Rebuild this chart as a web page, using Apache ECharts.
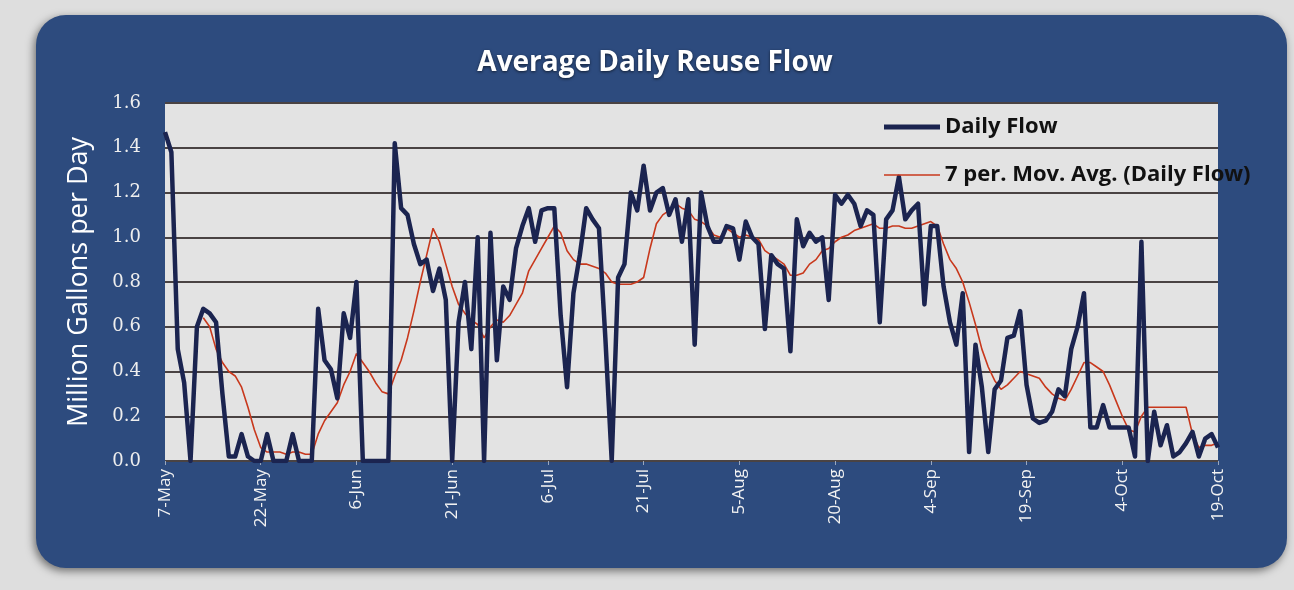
<!DOCTYPE html>
<html>
<head>
<meta charset="utf-8">
<script src="https://cdn.jsdelivr.net/npm/echarts@6/dist/echarts.min.js"></script>
<style>
  html, body { margin: 0; padding: 0; background: #dedede; }
  #echart_show { width: 1294px; height: 590px; }
</style>
</head>
<body>
<div id="echart_show"></div>
<script>
// daily reuse flow, million gallons per day, 7-May .. 19-Oct (one value per day)
var dailyFlow = [
    1.47, 1.38, 0.50, 0.35, 0.00, 0.60, 0.68, 0.66, 0.62, 0.30,
    0.02, 0.02, 0.12, 0.02, 0.00, 0.00, 0.12, 0.00, 0.00, 0.00,
    0.12, 0.00, 0.00, 0.00, 0.68, 0.45, 0.41, 0.28, 0.66, 0.55,
    0.80, 0.00, 0.00, 0.00, 0.00, 0.00, 1.42, 1.13, 1.10, 0.97,
    0.88, 0.90, 0.76, 0.86, 0.72, 0.00, 0.62, 0.80, 0.50, 1.00,
    0.00, 1.02, 0.45, 0.78, 0.72, 0.95, 1.05, 1.13, 0.98, 1.12,
    1.13, 1.13, 0.65, 0.33, 0.75, 0.92, 1.13, 1.08, 1.04, 0.55,
    0.00, 0.82, 0.88, 1.20, 1.12, 1.32, 1.12, 1.20, 1.22, 1.10,
    1.17, 0.98, 1.17, 0.52, 1.20, 1.05, 0.98, 0.98, 1.05, 1.04,
    0.90, 1.07, 1.00, 0.97, 0.59, 0.92, 0.88, 0.86, 0.49, 1.08,
    0.96, 1.02, 0.98, 1.00, 0.72, 1.19, 1.15, 1.19, 1.15, 1.05,
    1.12, 1.10, 0.62, 1.08, 1.12, 1.27, 1.08, 1.12, 1.15, 0.70,
    1.05, 1.05, 0.78, 0.62, 0.52, 0.75, 0.04, 0.52, 0.33, 0.04,
    0.32, 0.36, 0.55, 0.56, 0.67, 0.34, 0.19, 0.17, 0.18, 0.22,
    0.32, 0.29, 0.50, 0.60, 0.75, 0.15, 0.15, 0.25, 0.15, 0.15,
    0.15, 0.15, 0.02, 0.98, 0.00, 0.22, 0.07, 0.16, 0.02, 0.04,
    0.08, 0.13, 0.02, 0.10, 0.12, 0.06
];

// 7 period moving average line (starts on the 7th day)
var movingAvg = [
    null, null, null, null, null, null, 0.64, 0.60, 0.50, 0.44,
    0.40, 0.38, 0.33, 0.24, 0.14, 0.06, 0.04, 0.04, 0.04, 0.03,
    0.04, 0.04, 0.03, 0.03, 0.12, 0.18, 0.22, 0.26, 0.34, 0.40,
    0.48, 0.44, 0.40, 0.35, 0.31, 0.30, 0.38, 0.45, 0.55, 0.67,
    0.80, 0.92, 1.04, 0.98, 0.88, 0.78, 0.70, 0.66, 0.63, 0.61,
    0.55, 0.60, 0.63, 0.62, 0.65, 0.70, 0.75, 0.85, 0.90, 0.95,
    1.00, 1.05, 1.02, 0.94, 0.90, 0.88, 0.88, 0.87, 0.86, 0.84,
    0.80, 0.79, 0.79, 0.79, 0.80, 0.82, 0.95, 1.06, 1.10, 1.12,
    1.15, 1.13, 1.12, 1.08, 1.07, 1.05, 1.01, 1.00, 1.04, 1.02,
    1.00, 1.01, 1.00, 0.99, 0.94, 0.92, 0.90, 0.88, 0.83, 0.83,
    0.84, 0.88, 0.90, 0.94, 0.95, 0.98, 1.00, 1.01, 1.03, 1.04,
    1.05, 1.06, 1.04, 1.04, 1.05, 1.05, 1.04, 1.04, 1.05, 1.06,
    1.07, 1.05, 0.97, 0.90, 0.86, 0.80, 0.71, 0.61, 0.50, 0.42,
    0.36, 0.32, 0.34, 0.37, 0.40, 0.39, 0.38, 0.37, 0.33, 0.30,
    0.28, 0.27, 0.32, 0.38, 0.44, 0.44, 0.42, 0.40, 0.34, 0.27,
    0.20, 0.14, 0.13, 0.20, 0.24, 0.24, 0.24, 0.24, 0.24, 0.24,
    0.24, 0.12, 0.06, 0.07, 0.07, 0.08
];

var monthNames = ['Jan', 'Feb', 'Mar', 'Apr', 'May', 'Jun', 'Jul', 'Aug', 'Sep', 'Oct', 'Nov', 'Dec'];
var tickLabels = ['7-May', '22-May', '6-Jun', '21-Jun', '6-Jul', '21-Jul', '5-Aug', '20-Aug', '4-Sep', '19-Sep', '4-Oct', '19-Oct'];
var yTicks = [0, 0.2, 0.4, 0.6, 0.8, 1.0, 1.2, 1.4, 1.6];

// one category per day
var days = [];
for (var i = 0; i < dailyFlow.length; i++) {
    var d = new Date(2016, 4, 7 + i);
    days.push(d.getDate() + '-' + monthNames[d.getMonth()]);
}

// legend line icons: thick navy bar, thin red bar (the M points only fix the box)
var thickLine = 'path://M0,0M0,12M0,3.5H56V8.5H0Z';
var thinLine = 'path://M0,0M0,12M0,5.2H56V6.8H0Z';

var chart = echarts.init(document.getElementById('echart_show'));

var option = {
    backgroundColor: '#dedede',
    animation: false,
    graphic: [
        {
            type: 'rect',
            z: -10,
            silent: true,
            shape: { x: 36, y: 15, width: 1251, height: 553, r: 30 },
            style: {
                fill: '#2d4b7e',
                shadowBlur: 8,
                shadowColor: 'rgba(0,0,0,0.5)',
                shadowOffsetX: -2,
                shadowOffsetY: 3
            }
        }
    ],
    title: {
        text: 'Average Daily Reuse Flow',
        left: 650,
        textAlign: 'center',
        top: 44,
        textStyle: {
            color: '#ffffff',
            fontFamily: 'Open Sans',
            fontWeight: 'bold',
            fontSize: 28,
            textShadowColor: 'rgba(0,0,0,0.6)',
            textShadowBlur: 3,
            textShadowOffsetY: 1
        }
    },
    legend: {
        orient: 'vertical',
        left: 879,
        top: 111,
        itemWidth: 56,
        itemHeight: 12,
        itemGap: 26,
        textStyle: {
            color: '#111111',
            fontFamily: 'Open Sans',
            fontWeight: 'bold',
            fontSize: 22
        },
        data: [
            { name: 'Daily Flow', icon: thickLine },
            { name: '7 per. Mov. Avg. (Daily Flow)', icon: thinLine }
        ]
    },
    grid: {
        left: 165,
        right: 76,
        top: 103,
        bottom: 129,
        show: true,
        backgroundColor: '#e3e3e3',
        borderWidth: 0
    },
    xAxis: {
        type: 'category',
        data: days,
        boundaryGap: false,
        axisLine: { show: false },
        axisTick: {
            show: true,
            interval: 14,
            length: 4,
            lineStyle: { color: '#9aa7bd' }
        },
        axisLabel: {
            interval: 14,
            rotate: 90,
            margin: 8,
            color: '#f2f2f2',
            fontFamily: 'Open Sans',
            fontSize: 17,
            formatter: function (value, idx) {
                var k = Math.round(idx / 15);
                return tickLabels[k] || value;
            }
        }
    },
    yAxis: {
        type: 'value',
        min: yTicks[0],
        max: yTicks[yTicks.length - 1],
        interval: 0.2,
        name: 'Million Gallons per Day',
        nameLocation: 'middle',
        nameGap: 72,
        nameRotate: 90,
        nameTextStyle: {
            color: '#ffffff',
            fontFamily: 'Open Sans',
            fontSize: 27
        },
        axisLine: { show: false },
        axisTick: { show: false },
        axisLabel: {
            color: '#eeeeee',
            fontFamily: 'DejaVu Serif',
            fontSize: 18,
            margin: 24,
            formatter: function (v) { return v.toFixed(1); }
        },
        splitLine: {
            lineStyle: { color: '#4a4343', width: 2 }
        }
    },
    series: [
        {
            name: 'Daily Flow',
            type: 'line',
            data: dailyFlow,
            symbol: 'none',
            z: 3,
            itemStyle: { color: '#1b2450' },
            lineStyle: { color: '#1b2450', width: 4.5, join: 'round' }
        },
        {
            name: '7 per. Mov. Avg. (Daily Flow)',
            type: 'line',
            data: movingAvg,
            symbol: 'none',
            z: 2,
            itemStyle: { color: '#c8381c' },
            lineStyle: { color: '#c8381c', width: 1.6 }
        }
    ]
};

chart.setOption(option);
</script>
</body>
</html>
